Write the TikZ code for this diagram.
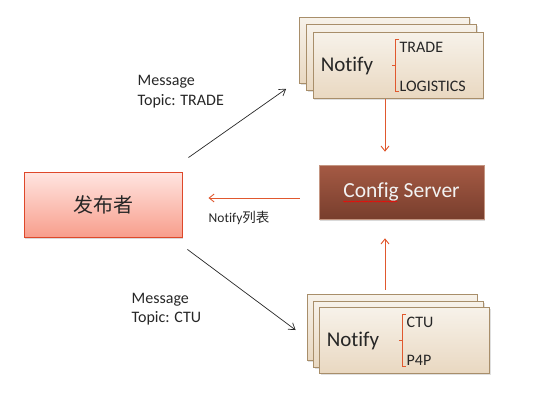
\documentclass[tikz,border=0pt]{standalone}
\usepackage{fontspec}
\setmainfont{Carlito}[Ligatures=NoCommon]
\newfontfamily\cjk{Noto Sans CJK SC}
\usetikzlibrary{arrows.meta,shadows,decorations.pathmorphing}
\definecolor{cardedge}{RGB}{168,142,106}
\definecolor{cardtop}{RGB}{247,242,234}
\definecolor{cardbot}{RGB}{233,216,193}
\definecolor{pubedge}{RGB}{222,72,42}
\definecolor{pubtop}{RGB}{255,229,225}
\definecolor{pubbot}{RGB}{248,158,140}
\definecolor{cfgtop}{RGB}{165,90,68}
\definecolor{cfgbot}{RGB}{120,62,45}
\definecolor{cfgedge}{RGB}{196,150,130}
\definecolor{flow}{RGB}{224,88,46}
\definecolor{ink}{RGB}{38,38,38}

\begin{document}
\begin{tikzpicture}[x=1pt,y=-1pt]

    \tikzset{
      card/.style={
        draw=cardedge,
        line width=0.8pt,
        top color=cardtop,
        bottom color=cardbot,
        minimum width=170pt,
        minimum height=66pt,
        inner sep=0pt,
        drop shadow={opacity=0.25,shadow xshift=1pt,shadow yshift=-1.5pt},
      },
      txt/.style={
        inner sep=0pt,
        text=ink,
        font=\fontsize{16}{19.5}\selectfont,
      },
      bracket/.style={draw=flow,line width=0.9pt},
      msg/.style={draw=ink,line width=0.7pt,-{Straight Barb[length=6pt,width=8pt]}},
      feed/.style={draw=flow,line width=0.9pt,-{Straight Barb[length=5pt,width=8pt]}},
    }
    \useasboundingbox (0,0) rectangle (533,402);

    % top stack
    \node[card] (topback) at (384.5,50.5) {};
    \node[card] (topmid) at (391.5,57.5) {};
    \node[card] (topfront) at (398,65) {};
    \node[txt,font=\fontsize{21}{24}\selectfont] (topname) at (347,66) {Notify};
    \draw[bracket] (399,39) -- (395,39) -- (395,91) -- (399,91);
    \draw[bracket] (395,65) -- (391.5,65);
    \node[txt,anchor=west] (trade) at (399.5,47) {TRADE};
    \node[txt,anchor=west] (logi) at (399.5,86) {LOGISTICS};

    % bottom stack
    \node[card] (botback) at (392,327) {};
    \node[card] (botmid) at (398.5,334) {};
    \node[card] (botfront) at (404.5,340) {};
    \node[txt,font=\fontsize{21}{24}\selectfont] (botname) at (353,341) {Notify};
    \draw[bracket] (406,314) -- (402,314) -- (402,366) -- (406,366);
    \draw[bracket] (402,340) -- (398.5,340);
    \node[txt,anchor=west] (ctu) at (406.5,322.5) {CTU};
    \node[txt,anchor=west] (pfp) at (406.5,360) {P4P};

    % publisher and config server
    \node[draw=pubedge,line width=0.9pt,top color=pubtop,bottom color=pubbot,
      minimum width=158pt,minimum height=65pt,
      drop shadow={opacity=0.3,shadow xshift=1pt,shadow yshift=-1.5pt},
      font=\cjk\fontsize{20}{24}\selectfont,text=ink] (pub) at (103,204.5) {发布者};
    \node[draw=cfgedge,line width=0.6pt,top color=cfgtop,bottom color=cfgbot,
      minimum width=165pt,minimum height=54pt,
      drop shadow={opacity=0.3,shadow xshift=1pt,shadow yshift=-1.5pt},
      font=\fontsize{21.5}{24}\selectfont,text=white!95!black] (cfg) at (401.5,192) {Config Server};
    \draw[red,line width=0.5pt,decorate,decoration={snake,amplitude=0.6pt,segment length=2.6pt}]
      (343,201.5) -- (397,201.5);

    % connectors
    \draw[msg] ([xshift=6pt,yshift=14pt]pub.north east) -- ([xshift=-13pt,yshift=-5pt]topback.south west);
    \draw[msg] ([xshift=5pt,yshift=-12pt]pub.south east) -- ([xshift=-11pt,yshift=-3pt]botback.west);
    \draw[feed] ([xshift=-19pt,yshift=-6pt]cfg.west) -- ([xshift=26pt,yshift=6.5pt]pub.east);
    \draw[feed] ([xshift=-13pt,yshift=-1pt]topfront.south) -- ([xshift=-16.5pt,yshift=13pt]cfg.north);
    \draw[feed] ([xshift=-7pt,yshift=4pt]botback.north) -- ([xshift=-16.5pt,yshift=-19pt]cfg.south);

    % labels
    \node[txt,anchor=west,align=left] (toplbl) at (137.5,91.5) {Message\\Topic: TRADE};
    \node[txt,anchor=west,align=left] (botlbl) at (131.5,309) {Message\\Topic: CTU};
    \node[txt,anchor=west,font=\fontsize{13.5}{16}\selectfont] (list) at (208.5,218) {Notify{\cjk 列表}};

\end{tikzpicture}
\end{document}
